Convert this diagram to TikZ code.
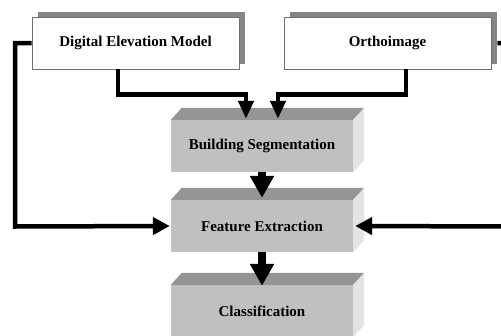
\documentclass[tikz,border=0pt]{standalone}
\usepackage{fontspec}
\setmainfont{Liberation Serif}
\usetikzlibrary{arrows.meta,shadows}

\definecolor{frontgray}{HTML}{C0C0C0}
\definecolor{topgray}{HTML}{959595}
\definecolor{sidegray}{HTML}{E4E4E4}
\definecolor{shadowgray}{HTML}{858585}
\definecolor{boxedge}{HTML}{707070}

\begin{document}
\begin{tikzpicture}[x=1pt,y=-1pt,line join=miter,
  labelfont/.style={font=\fontsize{15}{18}\selectfont\bfseries},
  srcbox/.style={labelfont,draw=boxedge,line width=0.8pt,fill=white,
    minimum width=207pt,minimum height=52pt,inner sep=0pt,
    general shadow={fill=shadowgray,shadow xshift=6pt,shadow yshift=5pt}},
  stagebox/.style={labelfont,fill=frontgray,
    minimum width=182pt,minimum height=52pt,inner sep=0pt},
  wire/.style={line width=4.5pt},
  feed/.style={wire,-{Triangle[width=15pt,length=18pt]}},
  sidefeed/.style={wire,-{Triangle[width=17pt,length=17pt]}},
  flow/.style={line width=8pt,-{Triangle[width=23pt,length=22pt]}}
]
\useasboundingbox (0,0) rectangle (501,335);
\clip (0,0) rectangle (501,335);

% input boxes with drop shadows
\node[srcbox] (dem)   at (135.5,43) {Digital Elevation Model};
\node[srcbox] (ortho) at (387.5,43) {Orthoimage};

% processing stages drawn as 3D blocks
\node[stagebox] (bs) at (262,146) {Building Segmentation};
\node[stagebox] (fe) at (262,226) {Feature Extraction};
\node[stagebox] (cl) at (262,311) {Classification};
\foreach \b in {bs,fe,cl} {
  \fill[topgray] (\b.north west) -- ++(11,-12)
    -- ([shift={(11,-12)}]\b.north east) -- (\b.north east) -- cycle;
  \fill[sidegray] (\b.north east) -- ([shift={(11,-12)}]\b.north east)
    -- ([shift={(11,-12)}]\b.south east) -- (\b.south east) -- cycle;
}

% inputs into segmentation
\draw[feed] ([xshift=-17.5pt]dem.south) -- ++(0,25)
  -| ([xshift=-16pt,yshift=1pt]bs.north);
\draw[feed] ([xshift=18.5pt]ortho.south) -- ++(0,25)
  -| ([xshift=16pt,yshift=1pt]bs.north);

% inputs into feature extraction
\draw[sidefeed] (dem.west) -| (15,226.5) -- ([xshift=-1pt]fe.west);
\draw[sidefeed] ([xshift=6pt]ortho.east) -| (508,226.5) -- ([xshift=2pt]fe.east);

% main flow
\draw[flow] (bs.south) -- ([yshift=2pt]fe.north);
\draw[flow] (fe.south) -- ([yshift=-1pt]cl.north);
\end{tikzpicture}
\end{document}
